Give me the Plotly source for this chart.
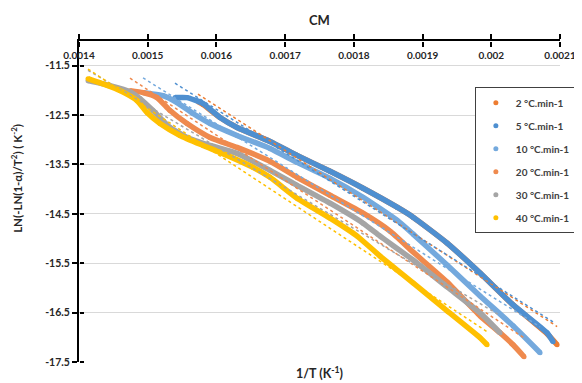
import numpy as np
import plotly.graph_objects as go

# ---- data ----
series_names = ["2 °C.min-1", "5 °C.min-1", "10 °C.min-1", "20 °C.min-1", "30 °C.min-1", "40 °C.min-1"]

x_2 = [0.0015732, 0.0015805, 0.0016052, 0.0016300, 0.0016780, 0.0017173, 0.0017654, 0.0018134,
       0.0018629, 0.0018862, 0.0019357, 0.0019837, 0.0020317, 0.0020812, 0.0020958]
y_2 = [-12.227, -12.287, -12.549, -12.751, -13.034, -13.316, -13.639, -13.982,
       -14.366, -14.568, -15.092, -15.698, -16.344, -16.929, -17.151]

x_5 = [0.0015397, 0.0015572, 0.0015805, 0.0016052, 0.0016300, 0.0016780, 0.0017173, 0.0017654,
       0.0018134, 0.0018629, 0.0018862, 0.0019357, 0.0019837, 0.0020317, 0.0020812, 0.0020900]
y_5 = [-12.146, -12.146, -12.267, -12.549, -12.751, -13.034, -13.316, -13.639,
       -13.982, -14.366, -14.568, -15.092, -15.698, -16.344, -16.909, -17.090]

x_10 = [0.0014932, 0.0015033, 0.0015223, 0.0015426, 0.0015659, 0.0015907, 0.0016300, 0.0016780,
        0.0017173, 0.0017654, 0.0018134, 0.0018629, 0.0018862, 0.0019357, 0.0019837, 0.0020317, 0.0020710]
y_10 = [-12.045, -12.065, -12.105, -12.247, -12.469, -12.671, -12.913, -13.175,
        -13.458, -13.781, -14.164, -14.628, -14.910, -15.536, -16.162, -16.767, -17.312]

x_20 = [0.0014742, 0.0014932, 0.0015135, 0.0015325, 0.0015572, 0.0015907, 0.0016300, 0.0016780,
        0.0017173, 0.0017654, 0.0018134, 0.0018527, 0.0018862, 0.0019357, 0.0019837, 0.0020128,
        0.0020317, 0.0020477]
y_20 = [-12.005, -12.045, -12.146, -12.408, -12.671, -12.953, -13.155, -13.437,
        -13.760, -14.124, -14.487, -14.850, -15.274, -15.879, -16.566, -16.909,
        -17.151, -17.393]

x_30 = [0.0014131, 0.0014451, 0.0014742, 0.0014888, 0.0015077, 0.0015325, 0.0015572, 0.0015907,
        0.0016300, 0.0016780, 0.0017173, 0.0017654, 0.0018134, 0.0018381, 0.0018862, 0.0019357,
        0.0019837, 0.0020128]
y_30 = [-11.803, -11.904, -12.025, -12.166, -12.408, -12.751, -12.953, -13.115,
        -13.276, -13.619, -13.922, -14.285, -14.689, -14.951, -15.435, -15.980,
        -16.505, -16.909]

x_40 = [0.0014131, 0.0014422, 0.0014597, 0.0014844, 0.0014990, 0.0015179, 0.0015470, 0.0015805,
        0.0016154, 0.0016533, 0.0016780, 0.0017173, 0.0017654, 0.0018047, 0.0018381, 0.0018862,
        0.0019357, 0.0019837, 0.0019939]
y_40 = [-11.762, -11.904, -12.005, -12.206, -12.449, -12.671, -12.913, -13.115,
        -13.316, -13.559, -13.760, -14.184, -14.588, -14.951, -15.355, -15.900,
        -16.465, -17.010, -17.151]

x_tick_vals = [0.0014, 0.0015, 0.0016, 0.0017, 0.0018, 0.0019, 0.0020, 0.0021]
x_tick_labels = ["0.0014", "0.0015", "0.0016", "0.0017", "0.0018", "0.0019", "0.002", "0.0021"]
y_tick_vals = [-17.5, -16.5, -15.5, -14.5, -13.5, -12.5, -11.5]
y_tick_labels = ["-17.5", "-16.5", "-15.5", "-14.5", "-13.5", "-12.5", "-11.5"]

colors = ["#ED7D31", "#4E8FD0", "#74A9DD", "#EF8A4E", "#A5A5A5", "#FFC000"]
xs = [x_2, x_5, x_10, x_20, x_30, x_40]
ys = [y_2, y_5, y_10, y_20, y_30, y_40]

FONT = "Lato"
TXT = "#262626"
X_RANGE = [0.0014, 0.0021]
Y_RANGE = [-17.5, -11]

fig = go.Figure()

# data bands
for i, (name, xv, yv, c) in enumerate(zip(series_names, xs, ys, colors)):
    fig.add_trace(go.Scatter(x=xv, y=yv, mode="lines", line=dict(color=c, width=5.5, shape="spline", smoothing=0.5),
                             showlegend=False, legendgroup=f"g{i}", hoverinfo="skip"))
    fig.add_trace(go.Scatter(x=xv, y=yv, mode="markers", marker=dict(color=c, size=5),
                             name=name, legendgroup=f"g{i}"))

# linear trendlines (dotted), drawn on top like in Excel (on the overlay axes, same scales)
for i, (xv, yv, c) in enumerate(zip(xs, ys, colors)):
    a, b = np.polyfit(xv, yv, 1)
    xt = [min(xv), max(xv)]
    yt = [a * v + b for v in xt]
    fig.add_trace(go.Scatter(x=xt, y=yt, mode="lines", line=dict(color=c, width=1.5, dash="dot"),
                             xaxis="x2", yaxis="y2",
                             showlegend=False, legendgroup=f"g{i}", hoverinfo="skip"))

tickfont_x = dict(family=FONT, size=10, color=TXT, weight="bold")
tickfont_y = dict(family=FONT, size=10.5, color=TXT, weight="bold")

fig.update_layout(
    width=574, height=375,
    margin=dict(l=71, r=22, t=33, b=21, autoexpand=False),
    plot_bgcolor="white", paper_bgcolor="white",
    font=dict(family=FONT, color=TXT),
    legend=dict(x=1.033, y=0.856, xanchor="right", yanchor="top",
                bordercolor="#404040", borderwidth=1, bgcolor="white",
                font=dict(family=FONT, size=10, color="#404040", weight="bold"),
                traceorder="grouped", tracegroupgap=4, itemwidth=30, itemsizing="trace"),
    # main x axis: line at top, tick marks pointing up
    xaxis=dict(range=X_RANGE, side="top", tickvals=x_tick_vals, showticklabels=False,
               ticks="outside", ticklen=5, tickwidth=1.5, tickcolor="black",
               showline=True, linecolor="black", linewidth=2, showgrid=False, zeroline=False),
    # overlay x axis at the top edge, labels & tick marks below the line
    xaxis2=dict(range=X_RANGE, overlaying="x", anchor="free", position=1, side="bottom",
                tickvals=x_tick_vals, ticktext=x_tick_labels,
                ticks="outside", ticklen=5, tickwidth=1.5, tickcolor="black",
                showline=False, showgrid=False, zeroline=False, tickfont=tickfont_x),
    yaxis=dict(range=Y_RANGE, tickvals=y_tick_vals, ticktext=y_tick_labels,
               ticks="outside", ticklen=5, tickwidth=1.5, tickcolor="black",
               showline=True, linecolor="black", linewidth=2, showgrid=True, gridcolor="#D9D9D9",
               gridwidth=1, zeroline=False, tickfont=tickfont_y),
    yaxis2=dict(range=Y_RANGE, overlaying="y", anchor="free", position=0, side="right",
                tickvals=y_tick_vals, showticklabels=False,
                ticks="outside", ticklen=4, tickwidth=1.5, tickcolor="black",
                showline=False, showgrid=False, zeroline=False),
)

fig.add_annotation(text="CM", x=0.5, y=1.066, xref="paper", yref="paper", showarrow=False,
                   font=dict(family=FONT, size=13, color=TXT, weight="bold"), yanchor="middle")
fig.add_annotation(text="1/T (K<sup>-1</sup>)", x=0.5, y=-0.034, xref="paper", yref="paper", showarrow=False,
                   font=dict(family=FONT, size=12.5, color=TXT, weight="bold"), yanchor="middle")
fig.add_annotation(text="LN(-LN(1-α)/T<sup>2</sup>) ( K<sup>-2</sup>)", x=-0.13, y=0.572,
                   xref="paper", yref="paper", showarrow=False, textangle=-90,
                   font=dict(family=FONT, size=11.5, color=TXT, weight="bold"),
                   xanchor="center", yanchor="middle")

fig.write_html("out.html")
